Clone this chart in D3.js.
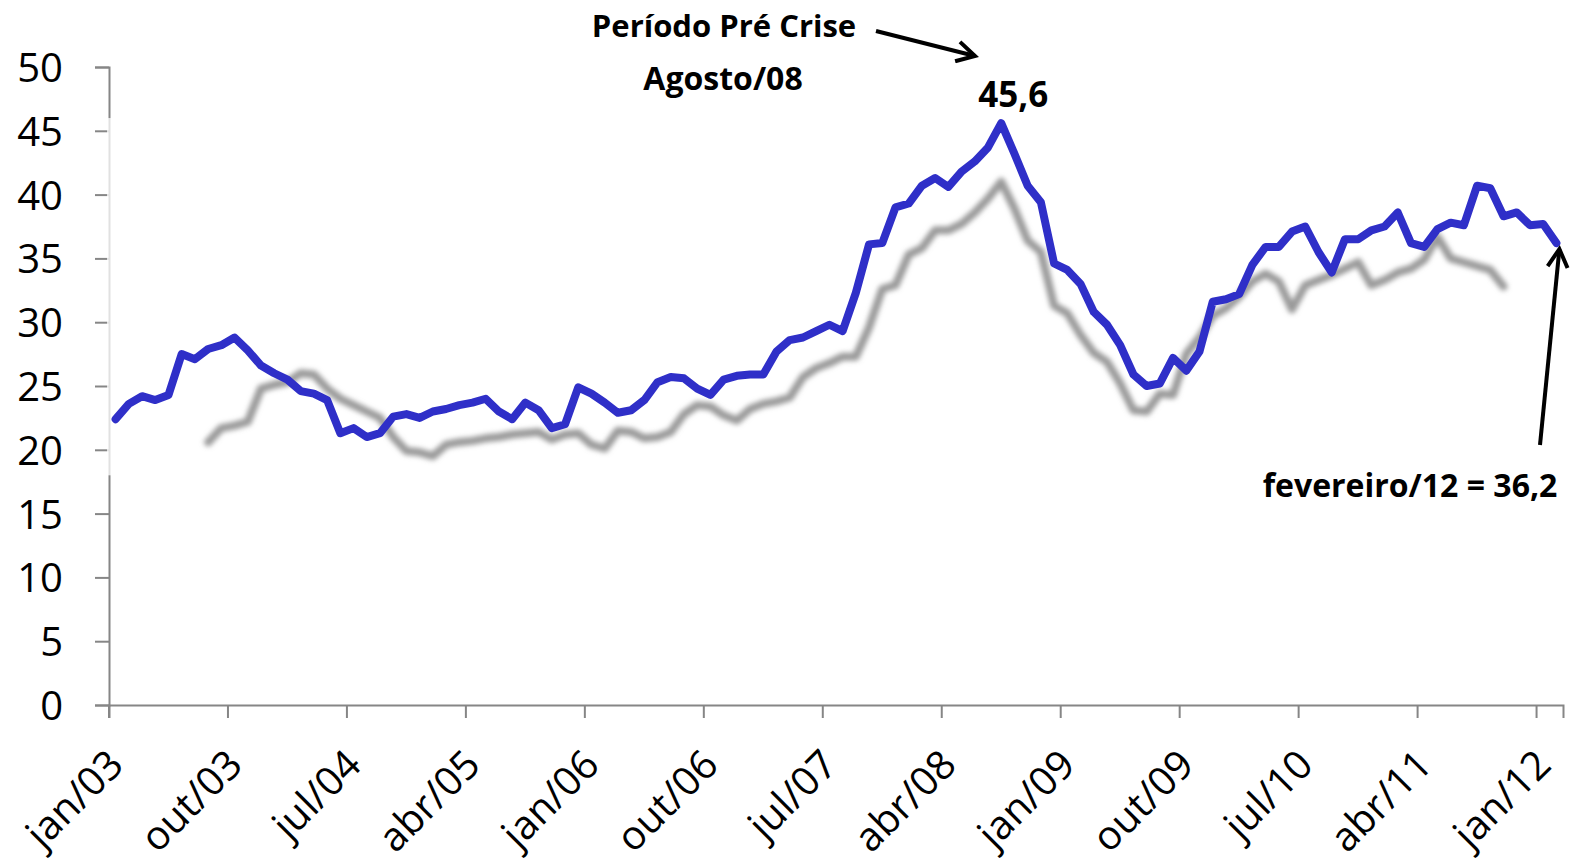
<!DOCTYPE html>
<html>
<head>
<meta charset="utf-8">
<script src="https://cdn.jsdelivr.net/npm/d3@7"></script>
<style>
  body { margin: 0; background: #fff; }
  .note { font-family: "Open Sans", sans-serif; font-weight: bold; fill: #000; }
</style>
</head>
<body>
<script>
// month names and years used to build the categories (jan/03 ... fev/12)
var monthNames = ["jan","fev","mar","abr","mai","jun","jul","ago","set","out","nov","dez"];
var years = ["03","04","05","06","07","08","09","10","11","12"];

// blue series, one value per month
var serieAzul = [22.4,23.6,24.2,23.9,24.3,27.5,27.1,27.9,28.2,28.8,27.8,26.6,
  26.0,25.5,24.6,24.4,23.9,21.3,21.7,21.0,21.3,22.6,22.8,22.5,
  23.0,23.2,23.5,23.7,24.0,23.0,22.4,23.7,23.1,21.7,22.0,24.9,
  24.4,23.7,22.9,23.1,23.9,25.3,25.7,25.6,24.8,24.3,25.5,25.8,
  25.9,25.9,27.7,28.6,28.8,29.3,29.8,29.3,32.3,36.1,36.2,39.0,
  39.3,40.7,41.3,40.6,41.8,42.6,43.7,45.6,43.2,40.7,39.4,34.6,
  34.1,33.0,30.8,29.8,28.2,25.9,25.0,25.2,27.2,26.2,27.7,31.6,
  31.8,32.2,34.5,35.9,35.9,37.1,37.5,35.5,33.9,36.5,36.5,37.2,
  37.5,38.6,36.2,35.9,37.3,37.8,37.6,40.7,40.5,38.3,38.6,37.6,
  37.7,36.2];

// grey (shadow) series, starts aug/03 and ends oct/11
var serieCinza = [null,null,null,null,null,null,null,20.6,21.7,21.9,22.2,24.8,
  25.1,25.3,26.0,25.9,24.8,24.0,23.5,23.0,22.5,21.0,19.9,19.8,
  19.5,20.4,20.6,20.7,20.9,21.0,21.2,21.3,21.4,20.8,21.2,21.3,
  20.4,20.1,21.5,21.4,20.9,21.0,21.4,22.8,23.5,23.4,22.7,22.3,
  23.2,23.6,23.8,24.1,25.7,26.4,26.8,27.3,27.3,29.6,32.6,32.9,
  35.3,35.8,37.2,37.2,37.7,38.6,39.7,41.0,38.9,36.4,35.5,31.3,
  30.7,29.0,27.6,26.9,25.2,23.1,23.0,24.4,24.3,27.5,28.8,30.5,
  31.1,32.0,33.2,33.8,33.2,31.0,32.9,33.3,33.7,34.2,34.7,32.9,
  33.3,33.9,34.2,34.9,36.7,35.0,34.7,34.4,34.1,32.8,null,null,
  null,null];

var yTicks = [0,5,10,15,20,25,30,35,40,45,50];

//building the month categories
var meses = [];
years.forEach(function(a){
  monthNames.forEach(function(m){
    if(meses.length < serieAzul.length) meses.push(m+"/"+a);
  });
});
// x labels shown every 9 months
var xTicks = meses.filter(function(d,i){ return i % 9 == 0; });

var W = 1570, H = 863;
var mLeft = 109, mRight = 1563, mTop = 67, mBottom = 705;

var svg = d3.select("body").append("svg")
  .attr("width", W).attr("height", H);

var x = d3.scaleBand().domain(meses).range([mLeft, mRight]).padding(0);
var y = d3.scaleLinear().domain([0, 50]).range([mBottom, mTop]);
var xc = function(m){ return x(m) + x.bandwidth()/2; };

//blur filter for the grey line
var defs = svg.append("defs");
defs.append("filter").attr("id","blur")
  .attr("x","-5%").attr("y","-20%").attr("width","110%").attr("height","140%")
  .append("feGaussianBlur").attr("stdDeviation", 2.6);

// open arrow head
defs.append("marker").attr("id","seta")
  .attr("viewBox","0 0 12 12").attr("refX",10).attr("refY",6)
  .attr("markerWidth",6).attr("markerHeight",6).attr("orient","auto")
  .attr("markerUnits","strokeWidth")
  .append("path").attr("d","M1,1 L10,6 L1,11")
  .attr("fill","none").attr("stroke","#000").attr("stroke-width",2);

// y axis
var yAxis = svg.append("g")
  .attr("transform","translate(" + mLeft + ",0)")
  .call(d3.axisLeft(y).tickValues(yTicks).tickSize(14).tickPadding(32));
yAxis.selectAll("text").attr("font-family","Open Sans, sans-serif")
  .attr("font-size", 40).attr("fill","#000").attr("dy","0.36em");
yAxis.select(".domain").attr("stroke","#868686").attr("stroke-width",2);
yAxis.selectAll(".tick line").attr("stroke","#868686").attr("stroke-width",2);

// the axis line is faded in the middle part in the original
svg.append("rect").attr("x", mLeft - 2).attr("y", y(46)).attr("width", 4)
  .attr("height", y(18) - y(46)).attr("fill","#fff").attr("opacity",0.75);

// x axis
var xAxis = svg.append("g")
  .attr("transform","translate(0," + mBottom + ")")
  .call(d3.axisBottom(x).tickValues(xTicks).tickSize(13).tickFormat(""));
xAxis.select(".domain").attr("stroke","#868686").attr("stroke-width",2);
xAxis.selectAll(".tick").attr("transform", function(d){ return "translate(" + x(d) + ",0)"; });
xAxis.selectAll(".tick line").attr("stroke","#868686").attr("stroke-width",2);

// rotated labels
svg.append("g").selectAll("text").data(xTicks).enter().append("text")
  .attr("transform", function(d){ return "translate(" + (xc(d) + 10) + "," + (mBottom + 62) + ") rotate(-45)"; })
  .attr("text-anchor","end")
  .attr("font-family","Open Sans, sans-serif")
  .attr("font-size", 40)
  .text(function(d){ return d; });

var linha = d3.line()
  .defined(function(d){ return d != null; })
  .x(function(d,i){ return xc(meses[i]); })
  .y(function(d){ return y(d); });

// grey line (blurred)
svg.append("path").datum(serieCinza)
  .attr("d", linha)
  .attr("fill","none").attr("stroke","#9a9a9a").attr("stroke-width",8)
  .attr("stroke-linejoin","round").attr("stroke-linecap","round")
  .attr("filter","url(#blur)");

// blue line
svg.append("path").datum(serieAzul)
  .attr("d", linha)
  .attr("fill","none").attr("stroke","#2f2fc8").attr("stroke-width",8)
  .attr("stroke-linejoin","round").attr("stroke-linecap","round");

//annotations
var pico = 67, fim = serieAzul.length - 1;

svg.append("text").attr("class","note").attr("x",724).attr("y",37)
  .attr("text-anchor","middle").attr("font-size",31).text("Período Pré Crise");
svg.append("text").attr("class","note").attr("x",723).attr("y",90)
  .attr("text-anchor","middle").attr("font-size",32).text("Agosto/08");
svg.append("text").attr("class","note").attr("x", xc(meses[pico]) + 12).attr("y", y(serieAzul[pico]) - 16)
  .attr("text-anchor","middle").attr("font-size",35)
  .text(String(serieAzul[pico]).replace(".", ","));
svg.append("text").attr("class","note").attr("x",1410).attr("y",497)
  .attr("text-anchor","middle").attr("font-size",32)
  .text("fevereiro/12 = " + String(serieAzul[fim]).replace(".", ","));

svg.append("line").attr("x1",876).attr("y1",31).attr("x2",975).attr("y2",56)
  .attr("stroke","#000").attr("stroke-width",4).attr("marker-end","url(#seta)");
svg.append("line").attr("x1",1540).attr("y1",445).attr("x2", xc(meses[fim]) + 3).attr("y2", y(serieAzul[fim]) + 6)
  .attr("stroke","#000").attr("stroke-width",4).attr("marker-end","url(#seta)");
</script>
</body>
</html>
